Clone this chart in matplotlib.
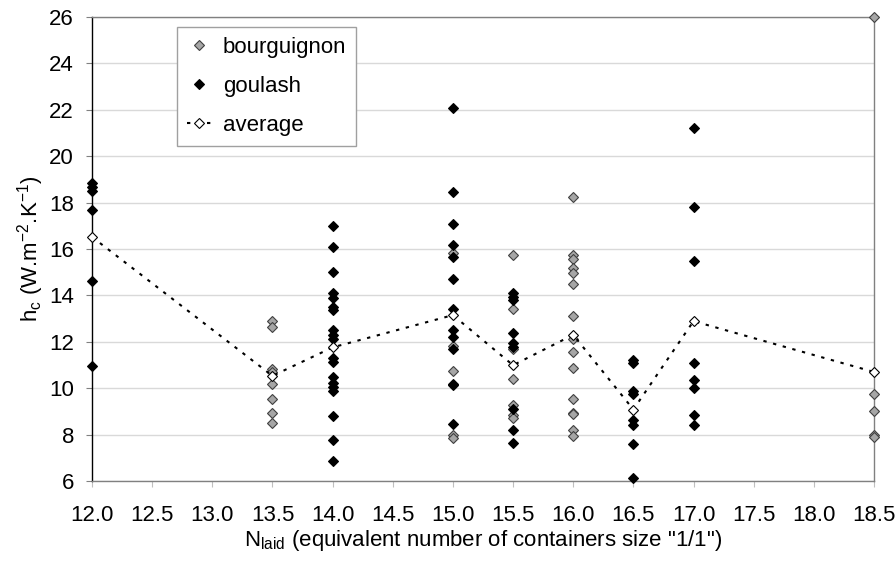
import matplotlib
matplotlib.use('Agg')
import matplotlib.pyplot as plt
from matplotlib.ticker import FormatStrFormatter, MultipleLocator

plt.rcParams['font.family'] = ['Liberation Sans', 'DejaVu Sans']
plt.rcParams['mathtext.fontset'] = 'custom'
plt.rcParams['mathtext.rm'] = 'Liberation Sans'

# heat transfer coefficient readings per N_laid value
bourguignon = {
    13.5: [12.91, 12.62, 10.83, 10.71, 10.19, 9.54, 8.92, 8.52],
    15.0: [15.84, 11.83, 10.75, 7.97, 7.86],
    15.5: [15.74, 13.40, 11.67, 10.39, 9.27, 8.83, 8.73],
    16.0: [18.26, 15.76, 15.55, 15.19, 14.97, 14.51, 13.12, 12.11, 11.55,
           10.86, 9.52, 8.94, 8.88, 8.19, 7.93],
    18.5: [26.0, 9.74, 9.03, 8.0, 7.9],
}
goulash = {
    12.0: [18.86, 18.66, 18.52, 17.67, 14.60, 10.96],
    14.0: [16.98, 16.07, 15.02, 14.10, 13.88, 13.52, 13.38, 12.49, 12.30,
           12.13, 11.30, 11.15, 10.47, 10.22, 10.04, 9.86, 8.78, 7.77, 6.88],
    15.0: [22.09, 18.47, 17.06, 16.17, 15.67, 14.69, 13.40, 12.50, 12.19,
           11.67, 10.20, 10.13, 8.47],
    15.5: [14.09, 13.91, 13.80, 12.36, 11.93, 11.78, 9.12, 8.19, 7.64],
    16.5: [11.22, 11.07, 9.88, 9.75, 8.65, 8.40, 7.58, 6.14],
    17.0: [21.21, 17.80, 15.50, 11.09, 10.35, 9.99, 8.83, 8.40],
}
avg_x = [12.0, 13.5, 14.0, 15.0, 15.5, 16.0, 16.5, 17.0, 18.5]
avg_y = [16.52, 10.53, 11.76, 13.15, 10.99, 12.30, 9.08, 12.89, 10.70]

FS = 16


def flatten(d):
    xs, ys = [], []
    for k, vals in d.items():
        xs += [k] * len(vals)
        ys += vals
    return xs, ys


fig = plt.figure(figsize=(8.96, 5.67), dpi=100)
ax = fig.add_axes([0.1027, 0.1517, 0.8727, 0.8183])

# horizontal grid
ax.yaxis.grid(True, color='#d9d9d9', linewidth=1)
ax.set_axisbelow(True)

bx, by = flatten(bourguignon)
gx, gy = flatten(goulash)
ax.plot(bx, by, linestyle='none', marker='D', markersize=5.3,
        markerfacecolor='#a6a6a6', markeredgecolor='#404040',
        markeredgewidth=0.8, clip_on=False, zorder=3, label='bourguignon')
ax.plot(gx, gy, linestyle='none', marker='D', markersize=5.3,
        markerfacecolor='black', markeredgecolor='black',
        markeredgewidth=0.8, clip_on=False, zorder=4, label='goulash')
ax.plot(avg_x, avg_y, color='black', linewidth=1.5, dashes=(1.6, 3.2),
        marker='D', markersize=5.3, markerfacecolor='white',
        markeredgecolor='black', markeredgewidth=0.8, clip_on=False,
        zorder=5, label='average')

ax.set_xlim(12.0, 18.5)
ax.set_ylim(6, 26)
ax.xaxis.set_major_locator(MultipleLocator(0.5))
ax.xaxis.set_major_formatter(FormatStrFormatter('%.1f'))
ax.yaxis.set_major_locator(MultipleLocator(2))

ax.tick_params(axis='both', labelsize=FS, colors='black', length=4,
               width=0.8)
ax.tick_params(axis='x', color='#bfbfbf', pad=13)
ax.tick_params(axis='y', color='#808080', pad=9)

ax.spines['left'].set_color('black')
ax.spines['bottom'].set_color('#808080')
ax.spines['top'].set_color('#808080')
ax.spines['right'].set_color('#808080')
for s in ax.spines.values():
    s.set_linewidth(1)

ax.set_xlabel(r'N$_\mathregular{laid}$ (equivalent number of containers size "1/1")',
              fontsize=FS, labelpad=2)
ax.set_ylabel(r'h$_\mathregular{c}$ (W.m$^\mathregular{-2}$.K$^\mathregular{-1}$)',
              fontsize=FS, labelpad=2)

leg = ax.legend(loc='upper left', bbox_to_anchor=(0.109, 0.978),
                fontsize=FS, frameon=True, fancybox=False,
                edgecolor='#a0a0a0', framealpha=1, borderaxespad=0,
                handlelength=1.1, handletextpad=0.5, labelspacing=0.8,
                borderpad=0.45)
leg.get_frame().set_linewidth(1)

plt.savefig('out.png', dpi=100)
